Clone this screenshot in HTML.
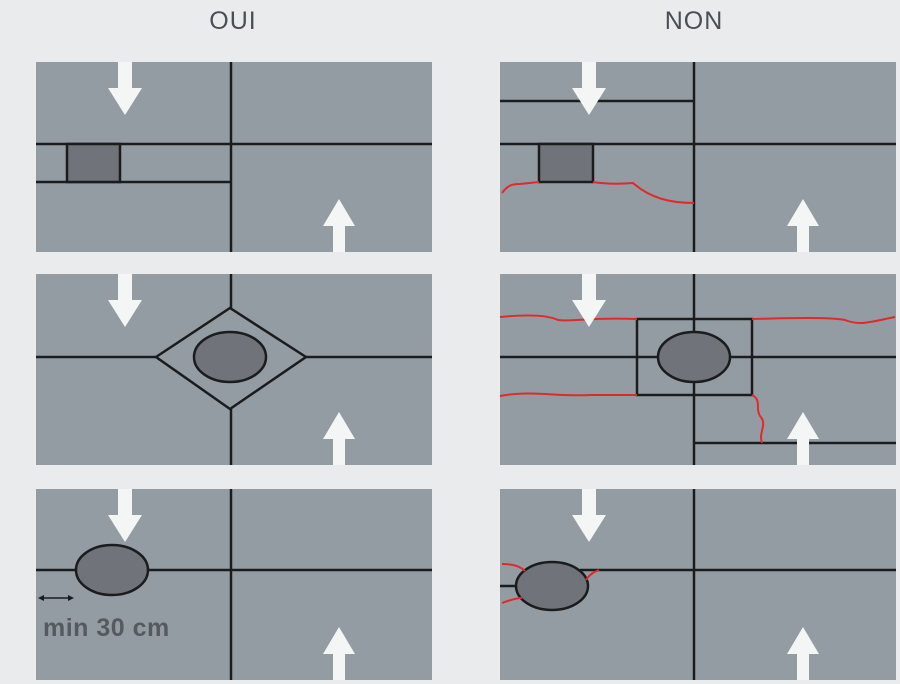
<!DOCTYPE html>
<html><head><meta charset="utf-8"><style>
html,body{margin:0;padding:0;background:#e9ebed;}
svg{display:block}
</style></head><body>
<svg width="900" height="684" viewBox="0 0 900 684" xmlns="http://www.w3.org/2000/svg">
<defs>
<g id="down"><polygon points="-7,0 7,0 7,26 17,26 0,53 -17,26 -7,26" fill="#f4f5f5"/></g>
<g id="up"><polygon points="0,0 16,27 6,27 6,53 -6,53 -6,27 -16,27" fill="#f4f5f5"/></g>
</defs>
<rect width="900" height="684" fill="#e9ebed"/>
<text x="233" y="29" font-family="Liberation Sans, sans-serif" font-size="25" letter-spacing="1" fill="#4a4f55" text-anchor="middle">OUI</text>
<text x="694" y="29" font-family="Liberation Sans, sans-serif" font-size="25" letter-spacing="1" fill="#4a4f55" text-anchor="middle">NON</text>

<g fill="#949ca3">
<rect x="36" y="62" width="396" height="190"/>
<rect x="500" y="62" width="396" height="190"/>
<rect x="36" y="274" width="396" height="191"/>
<rect x="500" y="274" width="396" height="191"/>
<rect x="36" y="489" width="396" height="191"/>
<rect x="500" y="489" width="396" height="191"/>
</g>

<g stroke="#1a1c1e" stroke-width="2.5" fill="none">
<line x1="231" y1="62" x2="231" y2="252"/>
<line x1="36" y1="144" x2="432" y2="144"/>
<line x1="36" y1="182" x2="231" y2="182"/>
<rect x="67" y="144" width="53" height="38" fill="#70747a"/>
<line x1="694" y1="62" x2="694" y2="252"/>
<line x1="500" y1="144" x2="896" y2="144"/>
<line x1="500" y1="101" x2="694" y2="101"/>
<rect x="539" y="144" width="54" height="38" fill="#70747a"/>
<line x1="231" y1="274" x2="231" y2="308"/>
<line x1="231" y1="409" x2="231" y2="465"/>
<line x1="36" y1="357" x2="156" y2="357"/>
<line x1="306" y1="357" x2="432" y2="357"/>
<polygon points="156,357 230,308 306,357 230,409"/>
<ellipse cx="230" cy="357" rx="36" ry="25" fill="#70747a"/>
<line x1="694" y1="274" x2="694" y2="332"/>
<line x1="694" y1="382" x2="694" y2="465"/>
<line x1="500" y1="357" x2="658" y2="357"/>
<line x1="730" y1="357" x2="896" y2="357"/>
<line x1="694" y1="443" x2="896" y2="443"/>
<rect x="637" y="319" width="115" height="76"/>
<ellipse cx="694" cy="357" rx="36" ry="25" fill="#70747a"/>
<line x1="231" y1="489" x2="231" y2="680"/>
<line x1="36" y1="570" x2="76" y2="570"/>
<line x1="148" y1="570" x2="432" y2="570"/>
<ellipse cx="112" cy="570" rx="36" ry="25" fill="#70747a"/>
<line x1="694" y1="489" x2="694" y2="680"/>
<line x1="580" y1="570" x2="896" y2="570"/>
<line x1="500" y1="586" x2="516" y2="586"/>
<ellipse cx="552" cy="586" rx="36" ry="24" fill="#70747a"/>
</g>

<g stroke="#e02a2a" stroke-width="2" fill="none">
<path d="M502,193 C508,185 512,184 520,184 L539,182"/>
<path d="M593,182 C605,184 620,184 633,183 C650,198 670,203 694,203"/>
<path d="M500,317 C520,315 545,314 558,320 C570,322 590,317 637,319"/>
<path d="M752,319 C790,318 830,317 845,320 C860,326 870,322 895,317"/>
<path d="M500,396 C530,390 560,397 590,395 L637,395"/>
<path d="M752,395 C762,400 755,408 760,416 C768,425 758,432 762,443"/>
<path d="M502,564 C512,564 520,566 525,571"/>
<path d="M502,603 C510,600 516,598 522,598"/>
<path d="M586,580 C590,574 594,572 599,570"/>
</g>

<use href="#down" x="125" y="62"/>
<use href="#up" x="339" y="199"/>
<use href="#down" x="589" y="62"/>
<use href="#up" x="803" y="199"/>
<use href="#down" x="125" y="274"/>
<use href="#up" x="339" y="412"/>
<use href="#down" x="589" y="274"/>
<use href="#up" x="803" y="412"/>
<use href="#down" x="125" y="489"/>
<use href="#up" x="339" y="627"/>
<use href="#down" x="589" y="489"/>
<use href="#up" x="803" y="627"/>

<g stroke="#1a1c1e" stroke-width="1.5" fill="#1a1c1e">
<line x1="40" y1="598" x2="72" y2="598"/>
<polygon points="38,598 44,595 44,601" stroke="none"/>
<polygon points="74,598 68,595 68,601" stroke="none"/>
</g>
<text x="43" y="636" font-family="Liberation Sans, sans-serif" font-size="25" font-weight="bold" letter-spacing="0.5" fill="#555a60">min 30 cm</text>
</svg>
</body></html>
